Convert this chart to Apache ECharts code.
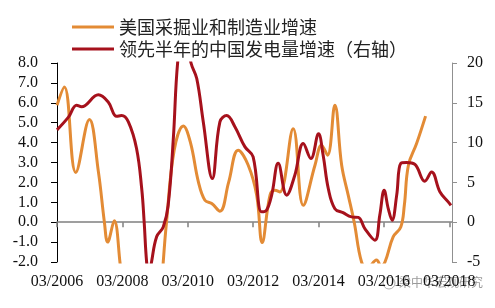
<!DOCTYPE html>
<html>
<head>
<meta charset="utf-8">
<script src="https://cdn.jsdelivr.net/npm/echarts@6/dist/echarts.min.js"></script>
<style>html,body{margin:0;padding:0;background:#fff}#c{width:495px;height:308px}</style>
</head>
<body>
<div id="c"></div>
<script>
// x values: months since 03/2006
var tickLabels = ['03/2006','03/2008','03/2010','03/2012','03/2014','03/2016','03/2018'];
var tickMonths = [0,24,48,72,96,120,144];
var seriesNames = ['美国采掘业和制造业增速','领先半年的中国发电量增速（右轴）'];
var usMonths = [0,2.7,6.9,11.9,15.2,17.4,18.6,21,23.1,26,30,34,37,39,40.2,43,46.4,49,51.9,54.3,56.8,59.8,63,66.5,70.2,73.3,75.3,78.2,80,81.8,86.7,90.4,94.7,97.1,99.3,102,104.5,106.9,109.1,111.8,114,117.3,119,120.4,123.4,126.2,127.5,129,132,135.3];
var usValues = [5.88,6.8,2.5,5.16,2.53,0,-1.0,0.07,-2.0,-6,-12,-11,-6,-2,0,3.6,4.84,4.0,2.03,1.1,0.94,0.55,2.0,3.62,2.86,1.36,-1.02,1.36,1.6,1.52,4.7,0.85,2.86,3.87,3.37,5.88,2.86,1.36,0,-2,-2.3,-1.9,-2.2,-2,-0.74,-0.24,0.85,2.86,3.95,5.33];
var cnMonths = [0,4.2,7.2,9,15.2,18.8,21.9,23.7,26.2,29.2,31.1,32,32.9,33.8,34.7,36.6,39,40.8,42.7,44.3,46.5,49.2,51.3,53.7,57,59.8,62.3,65.3,69,72,75.1,76.9,78.8,81.2,84.3,87.3,90.4,93.2,96,97.7,99.6,102,105,108.1,110.6,113,116.7,118.5,120.1,121.6,123,124.7,126.2,128.3,131.4,135,137.5,140.6,143.6,144.6];
var cnValues = [11.6,13.2,14.7,14.5,16.0,15.1,13.3,13.4,12.6,9.26,4.2,0,-5,-7,-5,-1.8,-0.6,2.1,10.5,20.1,25,20,18.05,12.6,5.49,12.6,13.4,12,9.46,8.2,1.3,1.5,3.4,7.4,3.4,5.9,9.9,8.0,11.1,8.4,4.2,1.7,1.2,0.67,0.6,-0.8,-2.26,0.9,4.0,1.7,0.25,3.4,7.4,7.5,7.25,5.15,6.3,3.8,2.55,2.1];

function pairs(xs, ys){ return xs.map(function(x,i){ return [x, ys[i]]; }); }

var serif = 'Liberation Serif';
var chart = echarts.init(document.getElementById('c'), null, {renderer:'canvas'});
chart.setOption({
  animation: false,
  backgroundColor: '#fff',
  grid: {left: 57, right: 43, top: 63, bottom: 46, containLabel: false},
  legend: {
    orient: 'vertical', left: 67, top: 13, itemGap: 4,
    itemWidth: 42, itemHeight: 3, icon: 'rect',
    textStyle: {fontFamily: 'Noto Sans CJK SC', fontSize: 18, color: '#222'},
    data: seriesNames
  },
  xAxis: [{
    type: 'value', min: 0, max: 145, interval: 24, position: 'bottom',
    axisLine: {show: false, onZero: false}, axisTick: {show: false}, splitLine: {show: false},
    axisLabel: {margin: 12, color: '#111', fontFamily: serif, fontSize: 16, customValues: tickMonths,
      formatter: function(v){ var i = tickMonths.indexOf(v); return i >= 0 ? tickLabels[i] : ''; }}
  },{
    type: 'value', min: 0, max: 145, interval: 24, position: 'bottom',
    axisLine: {show: true, onZero: true, onZeroAxisIndex: 0, lineStyle: {color: '#808080', width: 1.5}},
    axisTick: {show: true, inside: false, length: 5, customValues: tickMonths, lineStyle: {color: '#808080', width: 1.5}},
    axisLabel: {show: false}, splitLine: {show: false}
  }],
  yAxis: [{
    type: 'value', min: -2, max: 8, interval: 1, position: 'left',
    axisLine: {show: true, onZero: false, lineStyle: {color: '#000', width: 1}},
    axisTick: {show: true, inside: false, length: 6, lineStyle: {color: '#000'}},
    splitLine: {show: false},
    axisLabel: {margin: 19, color: '#111', fontFamily: serif, fontSize: 16,
      formatter: function(v){ return v.toFixed(1); }}
  },{
    type: 'value', min: -5, max: 20, interval: 5, position: 'right',
    axisLine: {show: true, onZero: false, lineStyle: {color: '#909090', width: 1}},
    axisTick: {show: true, inside: false, length: 5, lineStyle: {color: '#909090'}},
    splitLine: {show: false},
    axisLabel: {margin: 15, color: '#111', fontFamily: serif, fontSize: 16}
  }],
  series: [{
    name: seriesNames[0], type: 'line', xAxisIndex: 0, yAxisIndex: 0,
    data: pairs(usMonths, usValues), smooth: 0.4, showSymbol: false, clip: true,
    lineStyle: {color: '#E38B35', width: 3}, itemStyle: {color: '#E38B35'}
  },{
    name: seriesNames[1], type: 'line', xAxisIndex: 0, yAxisIndex: 1,
    data: pairs(cnMonths, cnValues), smooth: 0.4, showSymbol: false, clip: true,
    lineStyle: {color: '#A6111C', width: 3}, itemStyle: {color: '#A6111C'}
  }],
  graphic: [{
    type: 'circle', shape: {cx: 389, cy: 283, r: 6}, silent: true,
    style: {fill: 'none', stroke: 'rgba(140,140,140,0.7)', lineWidth: 1}
  },{
    type: 'text', left: 399, top: 276, silent: true,
    style: {text: '梁中华宏观研究', fill: 'rgba(120,120,120,0.75)', font: '12px "Noto Sans CJK SC"'}
  }]
});
</script>
</body>
</html>
